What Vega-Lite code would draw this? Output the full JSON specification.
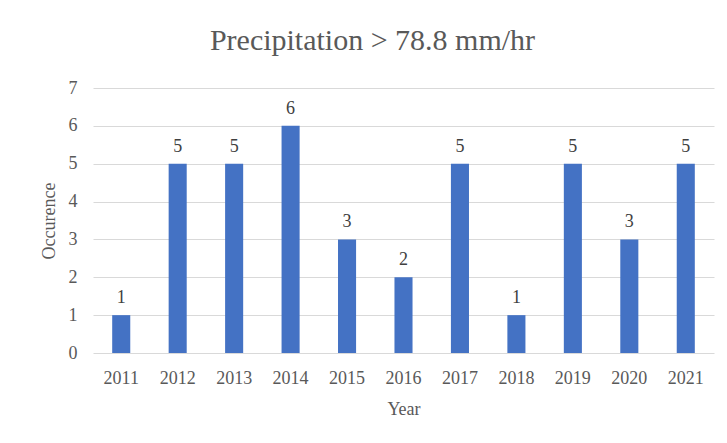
{
  "$schema": "https://vega.github.io/schema/vega-lite/v6.json",
  "width": 621,
  "height": 265,
  "autosize": "none",
  "padding": {"left": 93, "top": 88, "right": 13, "bottom": 90},
  "background": "white",
  "title": {
    "text": "Precipitation > 78.8 mm/hr",
    "fontSize": 30,
    "fontWeight": "normal",
    "color": "#595959",
    "anchor": "middle",
    "offset": 23,
    "dx": -31
  },
  "data": {
    "values": [
      {"Year": "2011", "Occurence": 1},
      {"Year": "2012", "Occurence": 5},
      {"Year": "2013", "Occurence": 5},
      {"Year": "2014", "Occurence": 6},
      {"Year": "2015", "Occurence": 3},
      {"Year": "2016", "Occurence": 2},
      {"Year": "2017", "Occurence": 5},
      {"Year": "2018", "Occurence": 1},
      {"Year": "2019", "Occurence": 5},
      {"Year": "2020", "Occurence": 3},
      {"Year": "2021", "Occurence": 5}
    ]
  },
  "encoding": {
    "x": {
      "field": "Year",
      "type": "nominal",
      "scale": {"paddingInner": 0.68, "paddingOuter": 0.34},
      "axis": {
        "labelAngle": 0,
        "domain": false,
        "ticks": false,
        "tickSize": 0,
        "labelPadding": 16,
        "labelFontSize": 18,
        "labelColor": "#595959",
        "title": "Year",
        "titleFontSize": 18,
        "titleFontWeight": "normal",
        "titleColor": "#595959",
        "titlePadding": 13
      }
    },
    "y": {
      "field": "Occurence",
      "type": "quantitative",
      "scale": {"domain": [0, 7], "nice": false},
      "axis": {
        "values": [0, 1, 2, 3, 4, 5, 6, 7],
        "domain": false,
        "ticks": false,
        "tickSize": 0,
        "grid": true,
        "gridColor": "#D9D9D9",
        "gridWidth": 1,
        "labelPadding": 16,
        "labelFontSize": 18,
        "labelColor": "#595959",
        "title": "Occurence",
        "titleFontSize": 18,
        "titleFontWeight": "normal",
        "titleColor": "#595959",
        "titlePadding": 10
      }
    }
  },
  "layer": [
    {"mark": {"type": "bar", "color": "#4472C4"}},
    {
      "mark": {
        "type": "text",
        "baseline": "alphabetic",
        "dy": -12,
        "fontSize": 18,
        "color": "#404040"
      },
      "encoding": {"text": {"field": "Occurence", "type": "quantitative"}}
    }
  ],
  "config": {
    "font": "Liberation Serif",
    "title": {"font": "Liberation Serif"},
    "axis": {"labelFont": "Liberation Serif", "titleFont": "Liberation Serif"},
    "text": {"font": "Liberation Serif"},
    "view": {"stroke": null}
  }
}
